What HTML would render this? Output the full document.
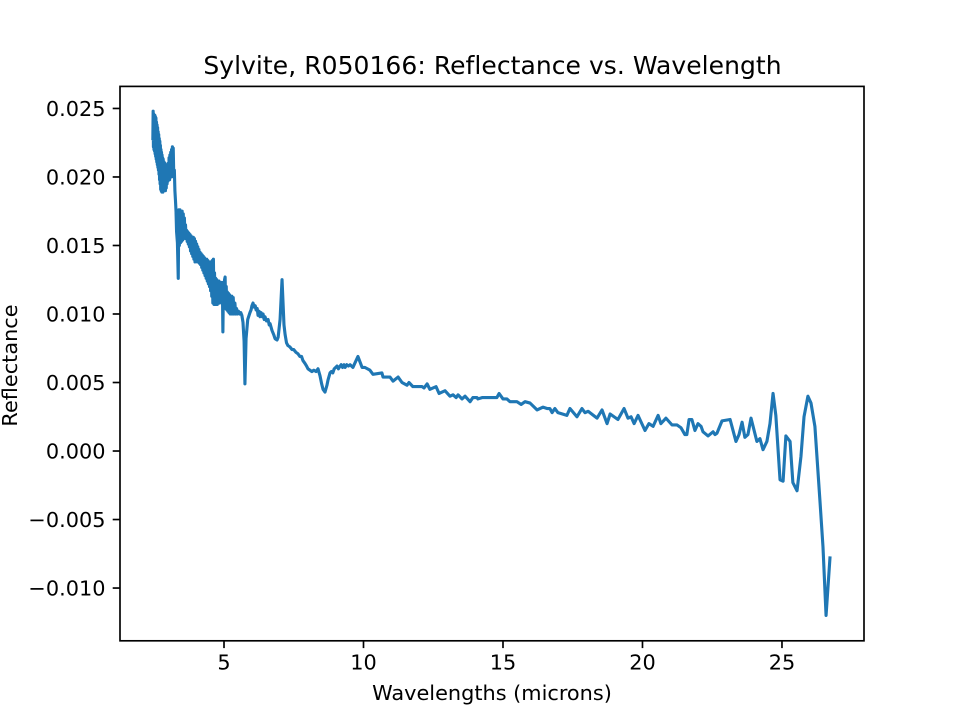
<!DOCTYPE html>
<html lang="en">
<head>
<meta charset="utf-8">
<title>Sylvite, R050166: Reflectance vs. Wavelength</title>
<style>
html,body{margin:0;padding:0;background:#fff;}
svg{display:block;}
text{font-family:"DejaVu Sans",sans-serif;fill:#000;}
</style>
</head>
<body>
<svg id="chart" width="960" height="720" viewBox="0 0 960 720" xmlns="http://www.w3.org/2000/svg">
<rect x="0" y="0" width="960" height="720" fill="#fff"/>
<g id="marks"></g>
<rect x="120" y="86.4" width="744" height="554.4" fill="none" stroke="#000" stroke-width="1.67"/>
<g id="x-ticks"></g>
<g id="y-ticks"></g>
<text x="492.5" y="74" font-size="25" letter-spacing="0.05" text-anchor="middle">Sylvite, R050166: Reflectance vs. Wavelength</text>
<text x="492" y="700" font-size="20.83" text-anchor="middle">Wavelengths (microns)</text>
<text x="0" y="0" font-size="20.83" text-anchor="middle" transform="translate(17 365.5) rotate(-90)">Reflectance</text>
</svg>
<script>
const xTickValues = [5, 10, 15, 20, 25];
const xTickLabels = ["5", "10", "15", "20", "25"];
const yTickValues = [-0.01, -0.005, 0, 0.005, 0.01, 0.015, 0.02, 0.025];
const yTickLabels = ["\u22120.010", "\u22120.005", "0.000", "0.005", "0.010", "0.015", "0.020", "0.025"];
const wavelengths = [
2.45,2.46,2.47,2.48,2.49,2.50,2.51,2.52,2.53,2.54,2.55,2.56,2.57,2.58,2.59,2.60,2.61,2.62,2.63,2.64,
2.65,2.66,2.67,2.68,2.69,2.70,2.71,2.72,2.73,2.74,2.75,2.76,2.77,2.78,2.79,2.80,2.81,2.82,2.84,2.85,
2.87,2.88,2.90,2.91,2.93,2.94,2.96,2.97,2.99,3.0,3.02,3.03,3.05,3.06,3.08,3.09,3.11,3.12,3.14,3.15,
3.17,3.18,3.2,3.22,3.24,3.26,3.28,3.3,3.33,3.36,
3.38,3.40,3.42,3.44,3.46,3.48,3.50,3.52,3.54,3.56,3.58,3.60,3.62,3.64,3.66,3.68,3.70,3.72,3.74,3.76,
3.78,3.80,3.82,3.84,3.86,3.88,3.90,3.92,3.94,3.96,3.98,4.0,4.02,4.04,4.06,4.08,4.10,4.12,4.14,4.16,
4.18,4.20,4.22,4.24,4.26,4.28,4.30,4.32,4.34,4.36,4.38,4.40,4.42,4.44,4.46,4.48,4.50,4.52,4.54,4.56,
4.58,4.60,4.62,4.64,4.66,4.68,4.70,4.72,4.74,4.76,4.78,4.80,4.82,4.84,4.86,4.88,4.90,4.92,4.94,4.96,
4.98,5.0,5.02,5.04,5.06,5.08,5.10,5.12,5.14,5.16,5.18,5.20,5.22,5.24,5.26,5.28,5.30,5.33,5.36,5.39,
5.42,5.45,5.48,5.52,5.56,5.60,5.64,5.68,5.72,5.75,5.79,5.85,
5.93,5.97,6.0,6.04,6.08,6.12,6.15,6.19,6.22,6.26,6.29,6.33,6.37,6.4,6.44,6.47,6.52,6.58,6.62,6.65,
6.72,6.78,6.83,6.9,6.94,7.01,7.08,7.15,7.19,7.24,7.29,7.36,7.44,7.5,7.58,7.65,7.72,7.78,7.83,7.9,
7.96,8.01,8.08,8.15,8.22,8.3,8.37,8.44,8.5,8.55,8.62,8.69,8.73,8.8,8.85,8.9,8.95,9.0,9.05,9.1,
9.16,9.2,9.25,9.3,9.34,9.4,9.46,
9.52,9.62,9.8,9.95,10.05,10.23,10.34,10.66,10.7,10.95,11.06,11.24,11.38,11.56,11.63,11.77,12.1,12.17,12.28,12.38,12.6,12.71,12.92,13.1,13.21,13.32,13.39,13.53,13.64,13.82,13.92,14.07,14.1,14.25,14.35,14.78,14.86,15.0,15.14,15.25,15.5,15.65,15.79,15.97,16.22,16.43,16.58,16.68,16.76,16.86,16.97,17.29,17.4,
17.65,17.83,17.94,18.05,18.37,18.55,18.73,18.84,19.12,19.34,19.48,19.59,19.7,19.84,20.09,20.23,20.38,20.56,20.66,20.84,21.06,21.24,21.38,21.52,21.59,21.67,21.77,21.88,21.99,22.1,22.17,22.35,22.53,22.6,22.67,22.85,23.14,23.35,23.46,23.57,23.67,23.78,23.89,24.1,24.21,24.32,24.46,24.57,24.68,24.78,24.93,25.04,25.14,25.29,25.39,25.54,25.68,25.79,25.93,26.04,26.18,26.36,26.47,26.58,26.72
];
const reflectance = [
.0228,.0248,.0222,.0246,.0220,.0245,.0219,.0245,.0217,.0244,.0215,.0243,.0213,.0240,.0211,.0238,.0209,.0236,.0207,.0233,
.0205,.0231,.0202,.0228,.0198,.0226,.0195,.0223,.0191,.0220,.0190,.0218,.0189,.0216,.0192,.0214,.0189,.0213,.0190,.0211,
.0193,.0210,.0190,.0209,.0192,.0208,.0195,.0207,.0197,.0210,.0198,.0214,.0198,.0216,.0200,.0218,.0200,.0220,.0201,.0222,
.0202,.0221,.0200,.0205,.0190,.0183,.0175,.0160,.0152,.0126,
.0176,.0150,.0176,.0152,.0175,.0153,.0175,.0154,.0173,.0155,.0170,.0156,.0165,.0155,.0161,.0153,.0160,.0151,.0159,.0149,
.0158,.0146,.0157,.0144,.0156,.0142,.0156,.0140,.0155,.0138,.0153,.0139,.0151,.0138,.0149,.0138,.0147,.0137,.0145,.0136,
.0144,.0134,.0143,.0132,.0142,.0130,.0141,.0128,.0140,.0126,.0140,.0124,.0139,.0122,.0138,.0120,.0138,.0117,.0138,.0113,
.0139,.0108,.0140,.0107,.0130,.0107,.0126,.0107,.0125,.0107,.0124,.0108,.0124,.0108,.0123,.0109,.0123,.0109,.0123,.0087,
.0122,.0105,.0125,.0127,.0104,.0120,.0103,.0116,.0102,.0115,.0101,.0114,.0100,.0113,.0100,.0113,.0100,.0112,.0100,.0108,
.0100,.0104,.0100,.0102,.0100,.0101,.0099,.0094,.0080,.0049,.0082,.0096,
.0101,.0103,.0106,.0108,.0105,.0106,.0103,.0104,.0099,.0102,.0098,.0101,.0098,.0100,.0096,.0098,.0095,.0096,.0092,.0093,
.0088,.0085,.0082,.0081,.0083,.0096,.0125,.0092,.0085,.0079,.0077,.0076,.0074,.0074,.0072,.0071,.0069,.0069,.0066,.0064,
.0062,.0060,.0059,.0058,.0059,.0058,.0060,.0055,.0049,.0045,.0043,.0048,.0052,.0057,.0058,.0057,.0060,.0061,.0062,.0060,
.0062,.0063,.0061,.0063,.0061,.0063,.0062,
.0063,.0061,.0069,.0061,.0061,.0059,.0056,.0057,.0054,.0054,.0051,.0054,.005,.0048,.005,.0047,.0047,.0046,.0049,.0045,.0047,.0042,.0044,.004,.0041,.0039,.0041,.0038,.004,.0036,.0039,.0039,.0038,.0039,.0039,.0039,.0042,.0038,.0038,.0036,.0036,.0034,.0036,.0035,.003,.0032,.0031,.0031,.0028,.0031,.0028,.0026,.0031,
.0025,.0031,.0028,.0029,.0024,.003,.002,.0027,.0023,.0031,.0024,.0025,.002,.0026,.0015,.002,.0018,.0026,.002,.0024,.0019,.0019,.0017,.0012,.0012,.0023,.0023,.0015,.002,.0018,.0014,.0011,.0014,.0012,.0013,.0022,.0023,.0007,.0012,.0021,.001,.0012,.0024,.0007,.0009,.0001,.0007,.002,.0042,.0026,-.0021,-.0022,.0011,.0007,-.0023,-.0029,-.0004,.0025,.004,.0035,.0018,-.0036,-.007,-.012,-.0078
];

const NS = "http://www.w3.org/2000/svg";
const AX_LEFT = 120, AX_RIGHT = 864, AX_TOP = 86.4, AX_BOTTOM = 640.8;
const X_MIN = 1.272, X_MAX = 27.94, Y_MIN = -0.01385, Y_MAX = 0.02661;
function xScale(v) { return AX_LEFT + (v - X_MIN) / (X_MAX - X_MIN) * (AX_RIGHT - AX_LEFT); }
function yScale(v) { return AX_BOTTOM - (v - Y_MIN) / (Y_MAX - Y_MIN) * (AX_BOTTOM - AX_TOP); }

const marks = document.getElementById("marks");
const line = document.createElementNS(NS, "polyline");


line.setAttribute("fill", "none");
line.setAttribute("stroke", "#1f77b4");
line.setAttribute("stroke-width", "3.125");
line.setAttribute("stroke-linejoin", "round");
line.setAttribute("stroke-linecap", "square");
line.setAttribute("points", wavelengths.map(function (w, i) {
  return xScale(w).toFixed(2) + "," + yScale(reflectance[i]).toFixed(2);
}).join(" "));
marks.appendChild(line);

const xGroup = document.getElementById("x-ticks");
xTickValues.forEach(function (v, i) {
  const x = xScale(v);
  const tick = document.createElementNS(NS, "line");
  
  
  tick.setAttribute("x1", x);
  tick.setAttribute("x2", x);
  tick.setAttribute("y1", AX_BOTTOM);
  tick.setAttribute("y2", AX_BOTTOM + 7.3);
  tick.setAttribute("stroke", "#000");
  tick.setAttribute("stroke-width", "1.67");
  xGroup.appendChild(tick);
  const label = document.createElementNS(NS, "text");
  
  
  label.setAttribute("x", x);
  label.setAttribute("y", 669.5);
  label.setAttribute("font-size", "20.83");
  label.setAttribute("text-anchor", "middle");
  label.textContent = xTickLabels[i];
  xGroup.appendChild(label);
});

const yGroup = document.getElementById("y-ticks");
yTickValues.forEach(function (v, i) {
  const y = yScale(v);
  const tick = document.createElementNS(NS, "line");
  
  
  tick.setAttribute("x1", AX_LEFT - 7.3);
  tick.setAttribute("x2", AX_LEFT);
  tick.setAttribute("y1", y);
  tick.setAttribute("y2", y);
  tick.setAttribute("stroke", "#000");
  tick.setAttribute("stroke-width", "1.67");
  yGroup.appendChild(tick);
  const label = document.createElementNS(NS, "text");
  
  
  label.setAttribute("x", 105.5);
  label.setAttribute("y", y + 7.6);
  label.setAttribute("font-size", "20.83");
  label.setAttribute("text-anchor", "end");
  label.textContent = yTickLabels[i];
  yGroup.appendChild(label);
});
</script>
</body>
</html>
